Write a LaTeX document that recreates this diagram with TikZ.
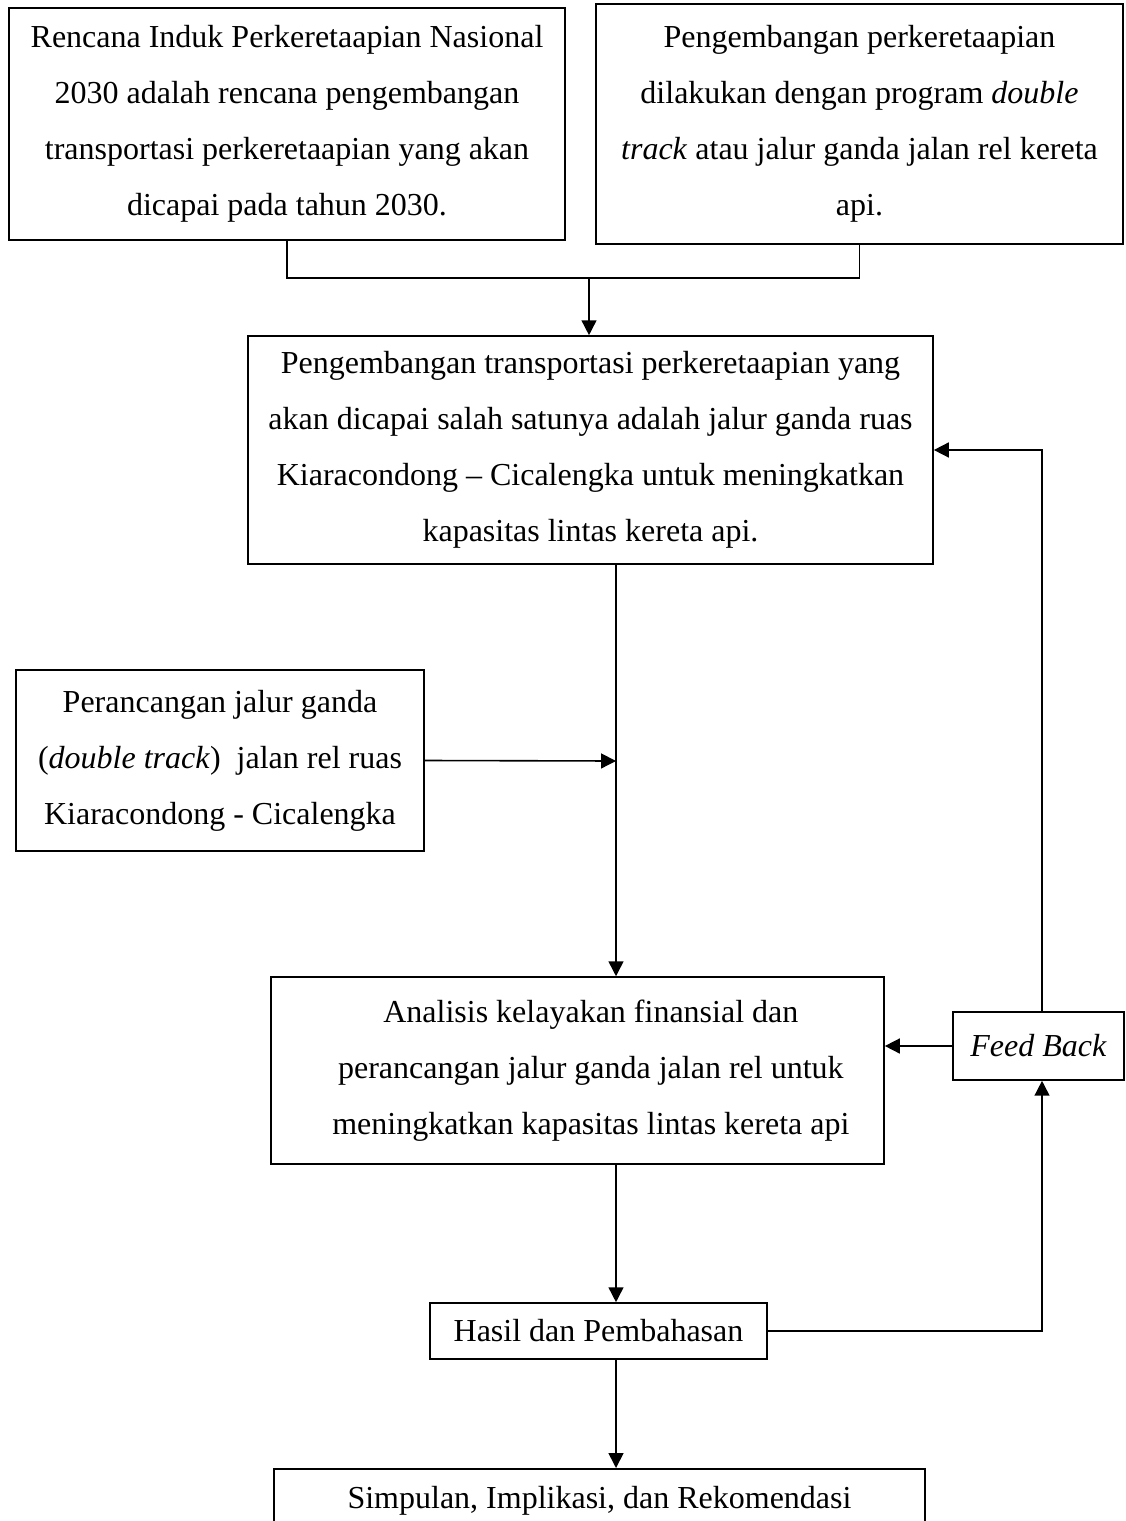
\documentclass[tikz,border=0pt]{standalone}
\usepackage{fontspec}
\setmainfont{Liberation Serif}
\usetikzlibrary{arrows.meta}
\begin{document}
\begin{tikzpicture}[x=0.375pt,y=-0.375pt,
        box/.style={draw,line width=0.6pt,rectangle,align=center,inner sep=0pt,font=\fontsize{12}{21}\selectfont},
        link/.style={line width=0.6pt},
        arr/.style={line width=0.6pt,-{Triangle[width=5.6pt,length=5.6pt]}}]
        \useasboundingbox (0,0) rectangle (1125,1521);
        \clip (0,0) rectangle (1125,1521);
        \node[box,minimum width=208.5pt,minimum height=87pt] (plan) at (287,124)
            {Rencana Induk Perkeretaapian Nasional\\2030 adalah rencana pengembangan\\transportasi perkeretaapian yang akan\\dicapai pada tahun 2030.};
        \node[box,minimum width=197.6pt,minimum height=90pt] (program) at (859.5,124)
            {Pengembangan perkeretaapian\\dilakukan dengan program \textit{double}\\\textit{track} atau jalur ganda jalan rel kereta\\api.};
        \node[box,minimum width=256.9pt,minimum height=85.5pt] (ruas) at (590.5,450)
            {Pengembangan transportasi perkeretaapian yang\\akan dicapai salah satunya adalah jalur ganda ruas\\Kiaracondong \textendash{} Cicalengka untuk meningkatkan\\kapasitas lintas kereta api.};
        \node[box,minimum width=153pt,minimum height=67.9pt] (desain) at (220,760.5)
            {Perancangan jalur ganda\\(\textit{double track})\ \ jalan rel ruas\\Kiaracondong - Cicalengka};
        \node[box,minimum width=229.9pt,minimum height=70.1pt] (analisis) at (577.5,1070.5)
            {\hspace*{10pt}Analisis kelayakan finansial dan\\\hspace*{10pt}perancangan jalur ganda jalan rel untuk\\\hspace*{10pt}meningkatkan kapasitas lintas kereta api};
        \node[box,minimum width=64.1pt,minimum height=25.5pt] (feedback) at (1038.5,1046) {\textit{Feed Back}};
        \node[box,minimum width=126.4pt,minimum height=21pt] (hasil) at (598.5,1331) {Hasil dan Pembahasan};
        \node[box,minimum width=244.1pt,anchor=north,inner ysep=6.5pt,text height=8.5pt,text depth=40pt] (simpulan) at (599.5,1468)
            {Simpulan, Implikasi, dan Rekomendasi};
        \coordinate (join) at (589,278);
        \coordinate (mid) at (616,761);
        \coordinate (loop) at (1042,450);
        \draw[link] (plan.south) |- (join) -| (program.south);
        \draw[arr] (join) -- (join |- ruas.north);
        \draw[arr] (ruas.south -| mid) -- (analisis.north -| mid);
        \draw[arr] (desain.east) -- (mid);
        \draw[arr] (analisis.south -| mid) -- (hasil.north -| mid);
        \draw[arr] (hasil.south -| mid) -- (simpulan.north -| mid);
        \draw[arr] (feedback.west) -- (feedback.west -| analisis.east);
        \draw[arr] (feedback.north -| loop) |- (ruas.east);
        \draw[arr] (hasil.east) -| (feedback.south -| loop);
\end{tikzpicture}
\end{document}
